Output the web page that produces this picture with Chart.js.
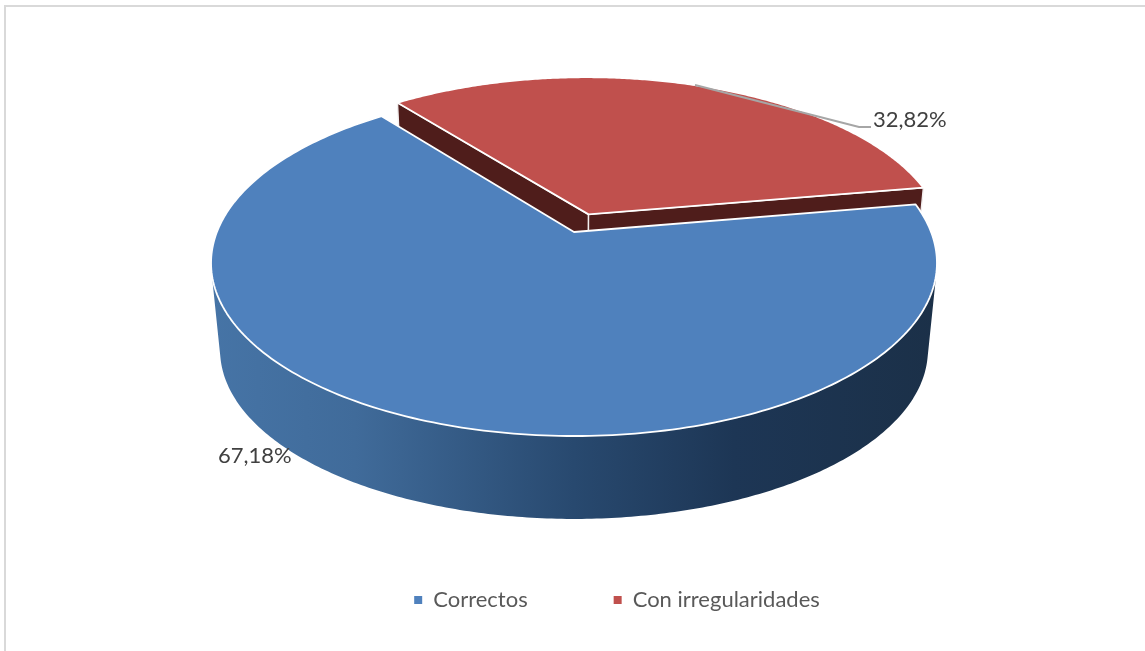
<!DOCTYPE html>
<html lang="es">
<head>
<meta charset="utf-8">
<title>Correctos / Con irregularidades</title>
<script src="https://cdn.jsdelivr.net/npm/chart.js@4"></script>
<style>
  html, body { margin: 0; padding: 0; background: #fff; overflow: hidden; }
  #wrap { position: relative; width: 1145px; height: 651px; }
  #frame { position: absolute; left: 4px; top: 5px; right: 0; bottom: 0;
           border-top: 2px solid #d9d9d9; border-left: 2px solid #d9d9d9; }
  canvas { position: absolute; left: 0; top: 0; }
</style>
</head>
<body>
<div id="wrap"><div id="frame"></div><canvas id="c" width="1145" height="651"></canvas></div>
<script>
const categories = ['Correctos', 'Con irregularidades'];
const shares = [67.18, 32.82];
const topColors = ['#4f81bd', '#c0504d'];
const explode = [0, 29];

// View of the tilted disc (perspective mapping of the unit circle).
const VIEW = { k: 0.179, sx: 357.1, sy: 167.5, depthScale: 0.975, depth: 88, lift: -34.5 };
const WALL_RED = '#4f1d1b';
const LEGEND_SHIFT = { x: 43, y: -30 };

function project(arc, u, v, lower) {
  const w = 1 - VIEW.k * v;
  const s = lower ? VIEW.depthScale : 1;
  return {
    x: arc.x + s * VIEW.sx * u / w,
    y: arc.y + VIEW.lift + s * VIEW.sy * v / w + (lower ? VIEW.depth : 0)
  };
}
function arcPoint(arc, radiusFrac, angle, lower) {
  const off = (arc.options.offset || 0) / arc.outerRadius;
  const mid = (arc.startAngle + arc.endAngle) / 2;
  return project(arc,
    radiusFrac * Math.cos(angle) + off * Math.cos(mid),
    radiusFrac * Math.sin(angle) + off * Math.sin(mid), lower);
}
function facePath(ctx, arc, lower) {
  const n = 240;
  ctx.beginPath();
  let p = arcPoint(arc, 0, arc.startAngle, lower);
  ctx.moveTo(p.x, p.y);
  for (let i = 0; i <= n; i++) {
    p = arcPoint(arc, 1, arc.startAngle + (arc.endAngle - arc.startAngle) * i / n, lower);
    ctx.lineTo(p.x, p.y);
  }
  ctx.closePath();
}
function radialWall(ctx, arc, angle) {
  const a = arcPoint(arc, 0, angle, false), b = arcPoint(arc, 1, angle, false);
  const c = arcPoint(arc, 1, angle, true), d = arcPoint(arc, 0, angle, true);
  ctx.beginPath();
  ctx.moveTo(a.x, a.y); ctx.lineTo(b.x, b.y); ctx.lineTo(c.x, c.y); ctx.lineTo(d.x, d.y);
  ctx.closePath();
  ctx.fillStyle = WALL_RED;
  ctx.strokeStyle = '#f2eeee';
  ctx.lineWidth = 1.4;
  ctx.fill();
  ctx.stroke();
}
function outerWall(ctx, arc) {
  const left = arc.x - VIEW.sx * 1.02, right = arc.x + VIEW.sx * 1.02;
  const g = ctx.createLinearGradient(left, 0, right, 0);
  g.addColorStop(0, '#4674a6');
  g.addColorStop(0.2, '#406b9a');
  g.addColorStop(0.5, '#28496f');
  g.addColorStop(0.72, '#1d3655');
  g.addColorStop(1, '#1b3048');
  const n = 360, span = arc.endAngle - arc.startAngle;
  ctx.fillStyle = g;
  ctx.beginPath();
  for (let i = 0; i < n; i++) {
    const a0 = arc.startAngle + span * i / n, a1 = arc.startAngle + span * (i + 1) / n;
    let p = [arcPoint(arc, 1, a0, false), arcPoint(arc, 1, a1, false),
             arcPoint(arc, 1, a1, true), arcPoint(arc, 1, a0, true)];
    let area = 0;
    for (let j = 0; j < 4; j++) {
      const q = p[(j + 1) % 4];
      area += p[j].x * q.y - q.x * p[j].y;
    }
    if (area < 0) p = p.reverse();      // same winding, so the quads add up
    ctx.moveTo(p[0].x, p[0].y);
    for (let j = 1; j < 4; j++) ctx.lineTo(p[j].x, p[j].y);
    ctx.closePath();
  }
  ctx.fill();
}

// Every slice is the library's own arc element, drawn in the tilted view.
Chart.ArcElement.prototype.draw = function (ctx) {
  ctx.save();
  ctx.lineJoin = 'round';
  if (this.options.offset > 0) {
    radialWall(ctx, this, this.startAngle);
    radialWall(ctx, this, this.endAngle);
  } else {
    outerWall(ctx, this);
  }
  facePath(ctx, this, false);
  ctx.fillStyle = this.options.backgroundColor;
  ctx.fill();
  ctx.strokeStyle = '#ffffff';
  ctx.lineWidth = 1.8;
  ctx.stroke();
  ctx.restore();
};
// The exploded back slice is painted first so the front slice covers its walls.
Chart.DoughnutController.prototype.draw = function () {
  const ctx = this.chart.ctx, arcs = this.getMeta().data;
  for (let i = arcs.length - 1; i >= 0; i--) arcs[i].draw(ctx);
};

const moveLegend = {
  id: 'moveLegend',
  afterLayout(chart) {
    const l = chart.legend;
    l.left += LEGEND_SHIFT.x; l.right += LEGEND_SHIFT.x;
    l.top += LEGEND_SHIFT.y; l.bottom += LEGEND_SHIFT.y;
  }
};
const pieLabels = {
  id: 'pieLabels',
  afterDatasetsDraw(chart) {
    const ctx = chart.ctx;
    const arcs = chart.getDatasetMeta(0).data;
    const cx = arcs[0].x, cy = arcs[0].y + VIEW.lift;
    const fmt = v => v.toFixed(2).replace('.', ',') + '%';
    ctx.save();
    ctx.strokeStyle = '#a6a6a6';
    ctx.lineWidth = 2;
    ctx.beginPath();
    ctx.moveTo(cx + 121, cy - 147);
    ctx.lineTo(cx + 285, cy - 105);
    ctx.lineTo(cx + 297, cy - 105);
    ctx.stroke();
    ctx.fillStyle = '#404040';
    ctx.font = '22px Lato, Carlito, sans-serif';
    ctx.textBaseline = 'middle';
    ctx.textAlign = 'left';
    ctx.fillText(fmt(shares[1]), cx + 299, cy - 112);
    ctx.fillText(fmt(shares[0]), cx - 356, cy + 224);
    ctx.restore();
  }
};

new Chart(document.getElementById('c'), {
  type: 'pie',
  data: {
    labels: categories,
    datasets: [{
      data: shares,
      backgroundColor: topColors,
      borderWidth: 0,
      offset: explode
    }]
  },
  options: {
    responsive: false,
    animation: false,
    rotation: 80.2,
    layout: { padding: { top: 0, left: 3, right: 0, bottom: 0 } },
    plugins: {
      tooltip: { enabled: false },
      legend: {
        position: 'bottom',
        labels: {
          boxWidth: 8, boxHeight: 8, padding: 86,
          color: '#595959',
          font: { family: 'Lato, Carlito, sans-serif', size: 22 }
        }
      }
    }
  },
  plugins: [moveLegend, pieLabels]
});
</script>
</body>
</html>
